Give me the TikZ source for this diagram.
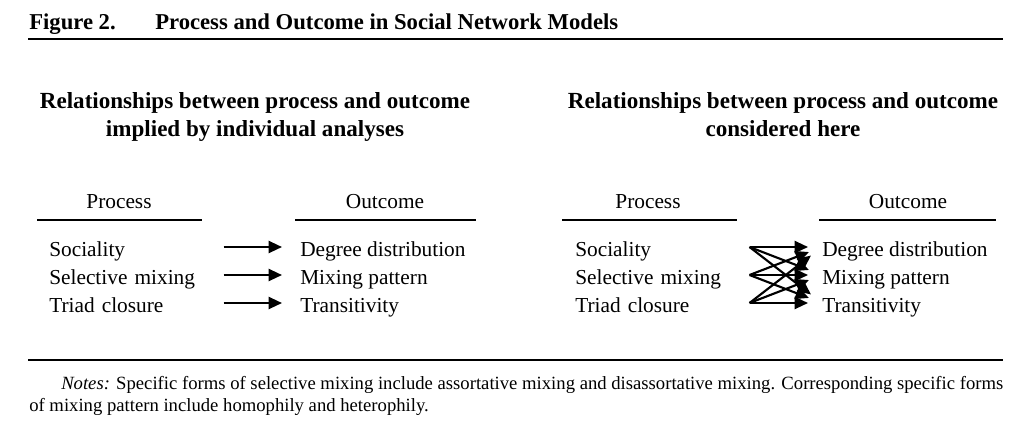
\documentclass[tikz,border=0pt]{standalone}
\usepackage{fontspec}
\setmainfont{Liberation Serif}
\usetikzlibrary{positioning, arrows.meta}

\begin{document}
\begin{tikzpicture}[
    x=0.75pt, y=-0.75pt,
    % coordinates are pixels of the page, y runs downwards
    heavyrule/.style={line width=2.2pt},
    colrule/.style={line width=1pt},
    heading/.style={anchor=north, align=center, font=\bfseries\fontsize{17.3}{21}\selectfont},
    colhead/.style={anchor=base, font=\fontsize{16}{19}\selectfont},
    item/.style={anchor=west, inner sep=0pt, text height=13.5pt, text depth=0pt, font=\fontsize{16}{19}\selectfont},
    proc/.style={item, text width=130.5pt, align=left},
    arrow/.style={-{Triangle[length=10pt, width=9pt]}, line width=1.6pt},
    notes/.style={anchor=north west, inner sep=0pt, text width=730.5pt, align=justify, font=\fontsize{14}{16.8}\selectfont}
]
    \useasboundingbox (0,0) rectangle (1029,440);

    % title and rules
    \node[anchor=base west, inner sep=0pt, font=\bfseries\fontsize{17}{19}\selectfont] (fig) at (29,29) {Figure 2.};
    \node[anchor=base west, inner sep=0pt, font=\bfseries\fontsize{17}{19}\selectfont] (title) at (155,29) {Process and Outcome in Social Network Models};
    \draw[heavyrule] (28,39) -- (1003,39);
    \draw[heavyrule] (28,360) -- (1003,360);

    % left panel
    \node[heading] (hl) at (255,88) {Relationships between process and outcome\\implied by individual analyses};
    \node[colhead] (pl) at (119,208) {Process};
    \node[colhead] (ol) at (385,208) {Outcome};
    \draw[colrule] (37,220) -- (202,220);
    \draw[colrule] (295,220) -- (476,220);

    \node[proc] (lp1) at (49,247) {Sociality};
    \node[proc] (lp2) at (49,275) {Selective mixing};
    \node[proc] (lp3) at (49,303) {Triad closure};
    \node[item] (lo1) at (300,247) {Degree distribution};
    \node[item] (lo2) at (300,275) {Mixing pattern};
    \node[item] (lo3) at (300,303) {Transitivity};

    \foreach \i in {1,2,3}
        \draw[arrow, shorten >=13.5pt] (lp\i.east) -- (lo\i.west);

    % right panel
    \node[heading] (hr) at (783,88) {Relationships between process and outcome\\considered here};
    \node[colhead] (pr) at (648,208) {Process};
    \node[colhead] (or) at (908,208) {Outcome};
    \draw[colrule] (562,220) -- (737,220);
    \draw[colrule] (819,220) -- (996,220);

    \node[proc] (rp1) at (575,247) {Sociality};
    \node[proc] (rp2) at (575,275) {Selective mixing};
    \node[proc] (rp3) at (575,303) {Triad closure};
    \node[item] (ro1) at (822,247) {Degree distribution};
    \node[item] (ro2) at (822,275) {Mixing pattern};
    \node[item] (ro3) at (822,303) {Transitivity};

    \foreach \i in {1,2,3}
        \foreach \j in {1,2,3}
            \draw[arrow, shorten >=10.5pt] (rp\i.east) -- (ro\j.west);

    % notes
    \node[notes] (nt) at (29,376) {\hspace*{24pt}\textit{Notes:} Specific forms of selective mixing include assortative mixing and disassortative mixing. Corresponding specific forms\linebreak of mixing pattern include homophily and heterophily.};
\end{tikzpicture}
\end{document}
